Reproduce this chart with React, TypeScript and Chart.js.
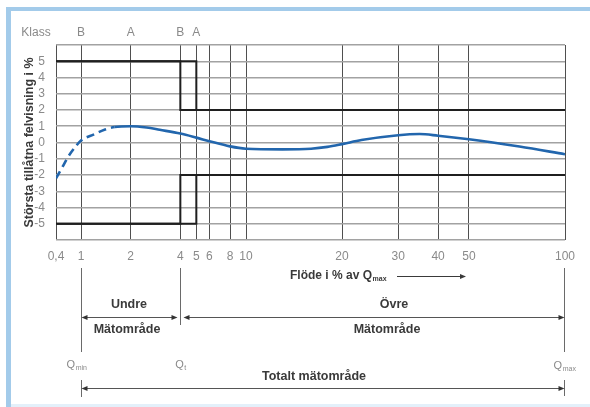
import React, { useEffect, useRef } from "react";
import { Chart, registerables } from "chart.js";

Chart.register(...registerables);

// ---- data ----
const xTickFlows = [0.4, 1, 2, 4, 5, 6, 8, 10, 20, 30, 40, 50, 100];
const xTickLabels = ["0,4", "1", "2", "4", "5", "6", "8", "10", "20", "30", "40", "50", "100"];
const classFlows = [1, 2, 4, 5];
const classLabels = ["B", "A", "B", "A"];
const yTickMin = -6;
const yTickMax = 6;

const curveFlows = [0.4, 0.5, 0.62, 0.8, 1.0, 1.2, 1.4, 1.6, 2.0, 2.5, 3, 4, 5, 6, 8, 10, 13, 16, 18, 20, 23, 30, 35, 40, 50, 72, 100];
const curveErrors = [-2.2, -1.55, -0.9, -0.3, 0.12, 0.5, 0.8, 0.95, 1.0, 0.92, 0.78, 0.55, 0.3, 0.08, -0.24, -0.38, -0.42, -0.38, -0.27, -0.1, 0.15, 0.45, 0.52, 0.42, 0.2, -0.25, -0.72];
const dashedUntilFlow = 1.6;

const limitBFlows = [0.4, 4, 4, 100];
const limitAFlows = [0.4, 5, 5, 100];
const limitUpper = [5, 5, 2, 2];
const limitLower = [-5, -5, -2, -2];

const qMin = 1;
const qT = 4;
const qMax = 100;

// ---- axis transform (piecewise logarithmic flow axis) ----
function axisPos(q: number): number {
  if (q <= 1) return (25 * Math.log(q / 0.4)) / Math.log(2.5);
  if (q <= 10) return 25 + 165 * Math.log10(q);
  return 190 + 319 * (Math.log10(q) - 1);
}

const FONT = "'Liberation Sans', Arial, sans-serif";
const GRAY_TEXT = "#8a8a8a";
const DARK_TEXT = "#3a3a3a";
const LINE_COL = "#6a6a6a";

function pts(qs: number[], ys: number[]) {
  return qs.map((q, i) => ({ x: axisPos(q), y: ys[i] }));
}

const framePlugin = {
  id: "frame",
  beforeDraw(chart: any) {
    const ctx = chart.ctx as CanvasRenderingContext2D;
    const w = chart.width;
    const h = chart.height;
    ctx.save();
    ctx.fillStyle = "#ffffff";
    ctx.fillRect(0, 0, w, h);
    ctx.fillStyle = "#a3cbea";
    ctx.fillRect(6, 7, w - 6, 4);
    ctx.fillRect(6, 7, 5, h - 7);
    ctx.fillStyle = "#e3f0fa";
    ctx.fillRect(11, h - 3, w - 11, 3);
    ctx.restore();
  },
};

function arrowHead(ctx: CanvasRenderingContext2D, x: number, y: number, dir: number) {
  ctx.beginPath();
  ctx.moveTo(x, y);
  ctx.lineTo(x - dir * 6, y - 2.5);
  ctx.lineTo(x - dir * 6, y + 2.5);
  ctx.closePath();
  ctx.fill();
}

function subLabel(ctx: CanvasRenderingContext2D, main: string, sub: string, cx: number, y: number, mainSize: number, subSize: number, weight: string, color: string) {
  ctx.font = `${weight} ${mainSize}px ${FONT}`;
  const mw = ctx.measureText(main).width;
  ctx.font = `${weight} ${subSize}px ${FONT}`;
  const sw = ctx.measureText(sub).width;
  const x0 = cx - (mw + sw) / 2;
  ctx.fillStyle = color;
  ctx.textAlign = "left";
  ctx.textBaseline = "middle";
  ctx.font = `${weight} ${mainSize}px ${FONT}`;
  ctx.fillText(main, x0, y);
  ctx.font = `${weight} ${subSize}px ${FONT}`;
  ctx.fillText(sub, x0 + mw + 0.5, y + 3);
}

const annotationPlugin = {
  id: "annot",
  afterDraw(chart: any) {
    const ctx = chart.ctx as CanvasRenderingContext2D;
    const xs = chart.scales.x;
    const area = chart.chartArea;
    const pMin = Math.round(xs.getPixelForValue(axisPos(qMin))) + 0.5;
    const pT = Math.round(xs.getPixelForValue(axisPos(qT))) + 0.5;
    const pMax = Math.round(xs.getPixelForValue(axisPos(qMax))) - 0.5;
    ctx.save();

    // "Klass"
    ctx.fillStyle = GRAY_TEXT;
    ctx.font = `12px ${FONT}`;
    ctx.textAlign = "center";
    ctx.textBaseline = "middle";
    ctx.fillText("Klass", area.left - 20, 33);

    // Flow axis caption
    ctx.fillStyle = DARK_TEXT;
    ctx.font = `bold 12px ${FONT}`;
    ctx.textAlign = "left";
    const cap = "Flöde i % av Q";
    ctx.fillText(cap, 290, 276);
    const cw = ctx.measureText(cap).width;
    ctx.font = `bold 7px ${FONT}`;
    ctx.fillText("max", 290 + cw + 0.5, 279);
    ctx.strokeStyle = DARK_TEXT;
    ctx.fillStyle = DARK_TEXT;
    ctx.lineWidth = 1;
    ctx.beginPath();
    ctx.moveTo(397, 276.5);
    ctx.lineTo(462, 276.5);
    ctx.stroke();
    arrowHead(ctx, 466, 276.5, 1);

    // vertical marker lines
    ctx.strokeStyle = LINE_COL;
    ctx.lineWidth = 1;
    ctx.beginPath();
    ctx.moveTo(pMin, 268);
    ctx.lineTo(pMin, 352);
    ctx.moveTo(pMin, 380);
    ctx.lineTo(pMin, 397);
    ctx.moveTo(pT, 268);
    ctx.lineTo(pT, 325);
    ctx.moveTo(pMax, 268);
    ctx.lineTo(pMax, 352);
    ctx.moveTo(pMax, 380);
    ctx.lineTo(pMax, 396);
    ctx.stroke();

    // range arrows
    ctx.strokeStyle = "#555";
    ctx.fillStyle = "#333";
    const yR = 317.5;
    ctx.beginPath();
    ctx.moveTo(pMin + 2, yR);
    ctx.lineTo(pT - 5, yR);
    ctx.moveTo(pT + 5, yR);
    ctx.lineTo(pMax - 2, yR);
    const yTot = 388.5;
    ctx.moveTo(pMin + 2, yTot);
    ctx.lineTo(pMax - 2, yTot);
    ctx.stroke();
    arrowHead(ctx, pMin, yR, -1);
    arrowHead(ctx, pT - 3, yR, 1);
    arrowHead(ctx, pT + 3, yR, -1);
    arrowHead(ctx, pMax, yR, 1);
    arrowHead(ctx, pMin, yTot, -1);
    arrowHead(ctx, pMax, yTot, 1);

    // range texts
    ctx.fillStyle = DARK_TEXT;
    ctx.font = `bold 12.5px ${FONT}`;
    ctx.textAlign = "center";
    ctx.textBaseline = "middle";
    ctx.fillText("Undre", 129, 305);
    ctx.fillText("Mätområde", 127, 330);
    ctx.fillText("Övre", 394, 305);
    ctx.fillText("Mätområde", 387, 330);
    ctx.fillText("Totalt mätområde", 314, 377);

    // Q labels
    subLabel(ctx, "Q", "min", pMin - 5, 365, 11, 7, "normal", GRAY_TEXT);
    subLabel(ctx, "Q", "t", pT, 365, 11, 7, "normal", GRAY_TEXT);
    subLabel(ctx, "Q", "max", pMax, 366, 11, 7, "normal", GRAY_TEXT);

    ctx.restore();
  },
};

export default function App() {
  const ref = useRef<HTMLCanvasElement | null>(null);

  useEffect(() => {
    if (!ref.current) return;
    const dashIdx = curveFlows.findIndex((q) => q >= dashedUntilFlow);
    const limitStyle = {
      borderColor: "#1f1f1f",
      borderWidth: 2,
      pointRadius: 0,
      fill: false,
      tension: 0,
    };
    const xMax = axisPos(100);
    const tickFont = { family: FONT, size: 12 };

    const chart = new Chart(ref.current, {
      type: "line",
      data: {
        datasets: [
          { ...limitStyle, data: pts(limitBFlows, limitUpper) },
          { ...limitStyle, data: pts(limitAFlows, limitUpper) },
          { ...limitStyle, data: pts(limitBFlows, limitLower) },
          { ...limitStyle, data: pts(limitAFlows, limitLower) },
          {
            data: pts(curveFlows, curveErrors),
            borderColor: "#2266ad",
            borderWidth: 2.6,
            pointRadius: 0,
            fill: false,
            cubicInterpolationMode: "monotone",
            borderCapStyle: "butt",
            segment: {
              borderDash: (c: any) => (c.p1DataIndex <= dashIdx ? [8, 5] : undefined),
            },
          } as any,
        ],
      },
      options: {
        animation: false,
        responsive: false,
        events: [],
        layout: { padding: { left: 0, right: 25, top: 25, bottom: 137 } },
        plugins: { legend: { display: false }, tooltip: { enabled: false } },
        scales: {
          x: {
            type: "linear",
            position: "bottom",
            min: 0,
            max: xMax,
            afterBuildTicks: (s: any) => {
              s.ticks = xTickFlows.map((q) => ({ value: axisPos(q) }));
            },
            afterFit: (s: any) => {
              s.height = 30;
            },
            ticks: {
              autoSkip: false,
              maxRotation: 0,
              padding: 9,
              color: GRAY_TEXT,
              font: tickFont,
              callback: (_v: any, i: number) => xTickLabels[i],
            },
            grid: { color: "#4f4f4f", lineWidth: 1, drawTicks: false },
            border: { display: false },
          },
          x2: {
            type: "linear",
            position: "top",
            min: 0,
            max: xMax,
            afterBuildTicks: (s: any) => {
              s.ticks = classFlows.map((q) => ({ value: axisPos(q) }));
            },
            afterFit: (s: any) => {
              s.height = 20;
            },
            ticks: {
              autoSkip: false,
              maxRotation: 0,
              padding: 5,
              color: GRAY_TEXT,
              font: tickFont,
              callback: (_v: any, i: number) => classLabels[i],
            },
            grid: { display: false, drawTicks: false },
            border: { display: false },
          },
          y: {
            type: "linear",
            min: yTickMin,
            max: yTickMax,
            afterFit: (s: any) => {
              s.width = 56;
            },
            ticks: {
              stepSize: 1,
              autoSkip: false,
              padding: 11,
              color: GRAY_TEXT,
              font: tickFont,
              callback: (v: any) => (v === yTickMin || v === yTickMax ? "" : String(v)),
            },
            grid: { color: "#a2a2a2", lineWidth: 1.5, drawTicks: false },
            border: { display: false },
            title: {
              display: true,
              text: "Största tillåtna felvisning i %",
              color: DARK_TEXT,
              font: { family: FONT, size: 12.5, weight: "bold" },
              padding: { top: 22.5, bottom: 0 },
            },
          },
        },
      } as any,
      plugins: [framePlugin, annotationPlugin],
    });
    return () => chart.destroy();
  }, []);

  return (
    <div style={{ position: "absolute", left: 0, top: 0, width: 590, height: 407, background: "#fff" }}>
      <canvas ref={ref} width={590} height={407} style={{ display: "block", width: 590, height: 407 }} />
    </div>
  );
}
